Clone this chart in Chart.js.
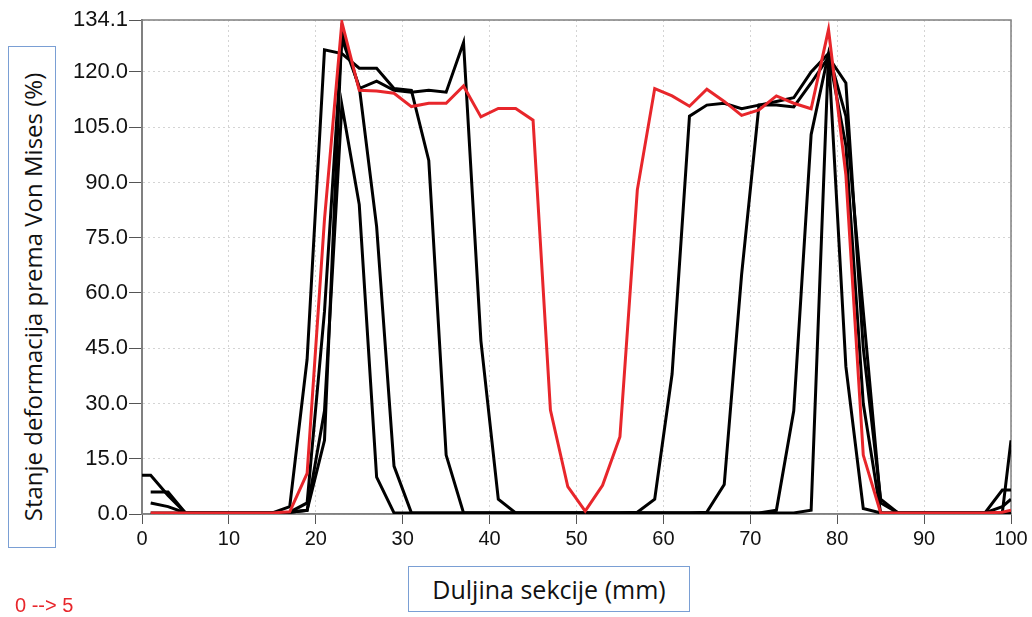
<!DOCTYPE html>
<html>
<head>
<meta charset="utf-8">
<title>Stanje deformacija prema Von Mises</title>
<script src="https://cdn.jsdelivr.net/npm/chart.js@4.4.1/dist/chart.umd.min.js"></script>
<style>
  html, body { margin: 0; padding: 0; background: #fff; }
  #wrap { position: relative; width: 1032px; height: 617px; overflow: hidden; }
  #chart { position: absolute; left: 0; top: 0; }
  .box {
    position: absolute;
    border: 1px solid #7a9fd4;
    background: #fff;
    box-sizing: border-box;
    font-family: 'Open Sans', sans-serif;
    color: #111;
  }
  .box span {
    position: absolute;
    left: 50%;
    top: 50%;
    white-space: nowrap;
  }
  #yTitle { left: 8px; top: 46px; width: 48px; height: 502px; }
  #yTitle span { font-size: 24px; transform: translate(-50%, -50%) rotate(-90deg); }
  #xTitle { left: 408px; top: 566px; width: 282px; height: 46px; }
  #xTitle span { font-size: 25px; transform: translate(-50%, -50%); }
  #stage {
    position: absolute; left: 15px; top: 594px;
    font-family: 'Liberation Sans', Arial, sans-serif;
    font-size: 20px; color: #e8262b;
  }
</style>
</head>
<body>
<div id="wrap">
  <canvas id="chart" width="1032" height="617"></canvas>
  <div class="box" id="yTitle"><span>Stanje deformacija prema Von Mises (%)</span></div>
  <div class="box" id="xTitle"><span>Duljina sekcije (mm)</span></div>
  <div id="stage">0 --&gt; 5</div>
</div>
<script>
// položaji duž sekcije (mm)
const sectionX = [0, 1, 3, 5, 7, 9, 11, 13, 15, 17, 19, 21, 23, 25, 27, 29, 31, 33, 35, 37,
  39, 41, 43, 45, 47, 49, 51, 53, 55, 57, 59, 61, 63, 65, 67, 69, 71, 73, 75, 77,
  79, 81, 83, 85, 87, 89, 91, 93, 95, 97, 99, 100];

// oznake na osi y
const yTicks = [0, 15, 30, 45, 60, 75, 90, 105, 120, 134.1];

// faze deformacije (crne linije), vrijednosti u %
const stage1 = [null, 3, 2, 0.3, 0.3, 0.3, 0.3, 0.3, 0.3, 0.5, 1, 28, 111, 84, 10, 0.3, 0.3, 0.3, 0.3, 0.3,
  0.3, 0.3, 0.3, 0.3, 0.3, 0.3, 0.3, 0.3, 0.3, 0.3, 0.3, 0.3, 0.3, 0.3, 0.3, 0.3, 0.3, 0.3, 0.3, 1,
  125, 40, 1.5, 0.3, 0.3, 0.3, 0.3, 0.3, 0.3, 0.3, 2, 4];

const stage2 = [null, 6, 6, 0.3, 0.3, 0.3, 0.3, 0.3, 0.3, 0.5, 3, 55, 129, 116, 78, 13, 0.3, 0.3, 0.3, 0.3,
  0.3, 0.3, 0.3, 0.3, 0.3, 0.3, 0.3, 0.3, 0.3, 0.3, 0.3, 0.3, 0.3, 0.3, 0.3, 0.3, 0.3, 1, 28, 103,
  125, 100, 30, 0.3, 0.3, 0.3, 0.3, 0.3, 0.3, 0.3, 6.5, 6.5];

const stage3 = [10.5, 10.5, 5, 0.3, 0.3, 0.3, 0.3, 0.3, 0.3, 2, 42, 126, 125, 121, 121, 115.5, 115, 96, 16, 0.3,
  0.3, 0.3, 0.3, 0.3, 0.3, 0.3, 0.3, 0.3, 0.3, 0.3, 0.3, 0.3, 0.3, 0.5, 8, 65, 111, 111, 110.5, 117,
  124, 117, 45, 4, 0.3, 0.3, 0.3, 0.3, 0.3, 0.3, 0.3, 20];

const stage4 = [null, 0.3, 0.3, 0.3, 0.3, 0.3, 0.3, 0.3, 0.3, 0.5, 1, 20, 131, 115.5, 117.5, 115, 114.5, 115, 114.5, 128,
  47, 4, 0.3, 0.3, 0.3, 0.3, 0.3, 0.3, 0.3, 0.5, 4, 38, 108, 111, 111.5, 110, 111, 112, 113, 120,
  125, 108, 55, 3, 0.3, 0.3, 0.3, 0.3, 0.3, 0.3, 0.3, 0.3];

// završna faza (crvena linija)
const stage5 = [null, 0.3, 0.3, 0.3, 0.3, 0.3, 0.3, 0.3, 0.3, 0.6, 11, 80, 133.5, 115, 114.8, 114.2, 110.6, 111.5, 111.5, 116.2,
  107.8, 110.1, 110.1, 106.9, 28.2, 7.4, 0.8, 7.8, 21, 88, 115.5, 113.5, 110.7, 115.3, 112, 108.2, 109.7, 113.5, 111.5, 110,
  131.5, 92, 16, 0.3, 0.3, 0.3, 0.3, 0.3, 0.3, 0.3, 0.5, 1];

function toPoints(values) {
  return sectionX.map((x, i) => ({ x: x, y: values[i] }));
}

function lineSet(label, values, color, order) {
  return {
    label: label,
    data: toPoints(values),
    borderColor: color,
    backgroundColor: color,
    borderWidth: 3,
    pointRadius: 0,
    tension: 0,
    fill: false,
    spanGaps: false,
    order: order
  };
}

// okvir oko područja grafa
const framePlugin = {
  id: 'frame',
  beforeDatasetsDraw(chart) {
    const { ctx, chartArea: a } = chart;
    ctx.save();
    ctx.strokeStyle = '#808080';
    ctx.lineWidth = 1.5;
    ctx.strokeRect(a.left, a.top, a.right - a.left, a.bottom - a.top);
    ctx.restore();
  }
};

const tickFont = { family: "'Liberation Sans', Arial, sans-serif", size: 22 };

new Chart(document.getElementById('chart'), {
  type: 'line',
  data: {
    datasets: [
      lineSet('5', stage5, '#e8262b', 0),
      lineSet('4', stage4, '#000000', 1),
      lineSet('3', stage3, '#000000', 1),
      lineSet('2', stage2, '#000000', 1),
      lineSet('1', stage1, '#000000', 1)
    ]
  },
  options: {
    responsive: false,
    animation: false,
    layout: { padding: { left: 0, right: 21, top: 20, bottom: 0 } },
    plugins: {
      legend: { display: false },
      tooltip: { enabled: false }
    },
    scales: {
      x: {
        type: 'linear',
        min: 0,
        max: 100,
        ticks: {
          stepSize: 10,
          color: '#111',
          font: { family: "'Liberation Sans', Arial, sans-serif", size: 20 },
          padding: 3,
          maxRotation: 0
        },
        grid: {
          color: '#d4d4d4',
          lineWidth: 1,
          tickColor: '#555',
          tickLength: 10,
          tickBorderDash: []
        },
        border: { color: '#808080', width: 1.5, dash: [2, 3] },
        afterFit(scale) { scale.height = 103; }
      },
      y: {
        type: 'linear',
        min: 0,
        max: 134.1,
        afterBuildTicks(scale) {
          scale.ticks = yTicks.map(v => ({ value: v }));
        },
        ticks: {
          color: '#111',
          font: tickFont,
          padding: 1,
          callback: v => Number(v).toFixed(1)
        },
        grid: {
          color: '#d4d4d4',
          lineWidth: 1,
          tickColor: '#555',
          tickLength: 13,
          tickBorderDash: []
        },
        border: { color: '#808080', width: 2, dash: [2, 3] },
        afterFit(scale) { scale.width = 142; }
      }
    }
  },
  plugins: [framePlugin]
});
</script>
</body>
</html>
